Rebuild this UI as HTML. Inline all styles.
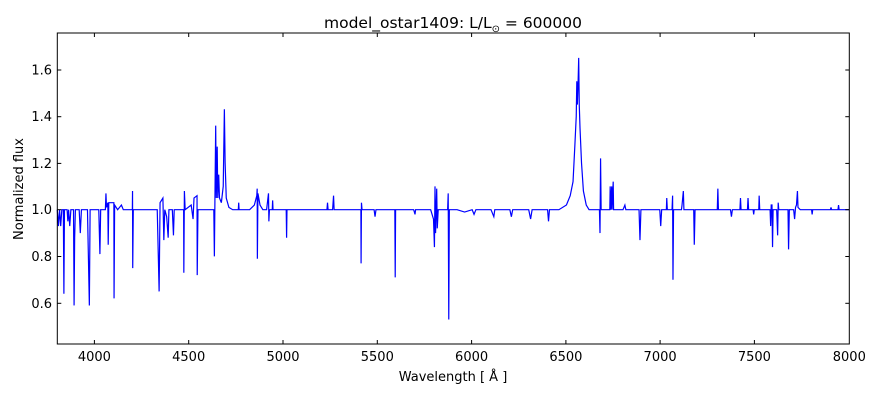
<!DOCTYPE html>
<html><head><meta charset="utf-8"><style>
body{margin:0;background:#fff;}
svg{display:block;font-family:"DejaVu Sans","Liberation Sans",sans-serif;}
</style></head><body>
<svg width="880" height="400" viewBox="0 0 880 400">
<rect width="880" height="400" fill="#fff"/>
<text x="453" y="28" font-size="15.5" text-anchor="middle">model_ostar1409: L/L<tspan font-size="10" dy="4">⊙</tspan><tspan dy="-4"> = 600000</tspan></text>
<g transform="translate(-659.27,443.2) scale(0.18857,-233.5)">
<path fill="none" stroke="#0000ff" stroke-width="1.2" vector-effect="non-scaling-stroke" stroke-linejoin="miter" d="
M3800 1 L3806 0.93 L3812 1 L3818 0.93 L3824 1 L3832 1 L3835 0.64 L3838 1 L3852 1 L3856 0.95 L3860 1 L3866 0.93 L3872 1 L3886 1 L3889 0.59 L3892 0.88 L3896 1 L3916 1 L3922 0.9 L3928 1 L3960 1 L3970 0.59 L3974 1 L4020 1 L4026 0.81 L4030 1 L4055 1 L4058 1.07 L4061 1.01 L4068 1.03 L4070 0.85 L4073 1.03 L4100 1.03 L4101 0.62 L4104 1.02 L4120 1.0 L4140 1.02 L4150 1 L4198 1 L4199 1.08 L4200 0.75 L4203 1 L4330 1 L4340 0.65 L4345 1.03 L4360 1.05 L4365 0.87 L4370 1 L4380 0.97 L4388 0.88 L4392 1 L4410 1 L4416 0.89 L4420 1 L4470 1 L4471 0.73 L4474 1.08 L4478 1 L4510 1.02 L4520 0.96 L4525 1.05 L4541 1.06 L4542 0.72 L4546 1 L4600 1 L4630 1 L4633 0.8 L4636 1.05 L4640 1.36 L4643 1.05 L4648 1.27 L4651 1.05 L4656 1.15 L4660 1.05 L4670 1.03 L4680 1.1 L4686 1.43 L4690 1.2 L4696 1.05 L4710 1.01 L4730 1 L4760 1 L4762 1.03 L4764 1 L4820 1 L4845 1.02 L4858 1.06 L4860 1.09 L4861 0.79 L4864 1.07 L4875 1.02 L4890 1 L4910 1 L4920 1.07 L4922 0.95 L4925 1 L4940 1 L4942 1.04 L4944 1 L5014 1 L5016 0.88 L5018 1 L5200 1 L5230 1 L5233 1.03 L5236 1 L5260 1 L5265 1.06 L5268 1 L5410 1 L5411 0.77 L5413 1.03 L5416 1 L5480 1 L5485 0.97 L5490 1 L5590 1 L5592 0.71 L5594 1 L5690 1 L5697 0.98 L5700 1 L5780 1 L5795 0.96 L5800 0.84 L5803 1.1 L5806 0.9 L5812 1.09 L5815 0.92 L5820 1 L5870 1 L5873 1.07 L5876 0.53 L5879 1 L5920 1 L5960 0.99 L6000 1 L6010 0.98 L6020 1 L6100 1 L6115 0.97 L6120 1 L6200 1 L6208 0.97 L6215 1 L6300 1 L6310 0.96 L6318 1 L6400 1 L6405 0.95 L6410 1 L6460 1 L6500 1.02 L6520 1.06 L6535 1.12 L6545 1.28 L6552 1.4 L6555 1.55 L6558 1.45 L6562 1.55 L6565 1.65 L6568 1.45 L6572 1.35 L6580 1.2 L6590 1.08 L6605 1.02 L6620 1 L6675 1 L6678 0.9 L6681 1.22 L6684 1 L6730 1 L6732 1.1 L6735 1 L6740 1.1 L6742 1 L6748 1.12 L6750 1 L6800 1 L6810 1.02 L6815 1 L6885 1 L6890 0.87 L6895 1 L6995 1 L7000 0.93 L7005 1 L7030 1 L7032 1.05 L7035 1 L7060 1 L7063 1.06 L7065 0.7 L7068 1 L7110 1 L7113 1.02 L7120 1.08 L7123 1 L7175 1 L7178 0.85 L7182 1 L7300 1 L7303 1.09 L7306 1 L7370 1 L7375 0.97 L7380 1 L7420 1 L7423 1.05 L7426 1 L7460 1 L7463 1.05 L7466 1 L7490 1 L7493 0.98 L7496 1 L7520 1 L7522 1.06 L7525 1 L7580 1 L7583 0.93 L7586 1.02 L7590 1.02 L7593 0.84 L7596 1 L7615 1 L7620 0.89 L7623 1.03 L7626 1 L7675 1 L7678 0.83 L7682 1 L7705 1 L7710 0.96 L7715 1.01 L7720 1.02 L7725 1.08 L7728 1.01 L7740 1 L7800 1 L7803 0.98 L7806 1 L7900 1 L7903 1.01 L7906 1 L7940 1 L7943 1.02 L7946 1 L8000 1"/>
</g>
<rect x="57.3" y="33" width="792" height="311" fill="none" stroke="#000" stroke-width="1"/>
<g stroke="#000" stroke-width="1">
<line x1="94.4" y1="344" x2="94.4" y2="340"/><line x1="94.4" y1="33" x2="94.4" y2="37"/>
<line x1="188.7" y1="344" x2="188.7" y2="340"/><line x1="188.7" y1="33" x2="188.7" y2="37"/>
<line x1="283" y1="344" x2="283" y2="340"/><line x1="283" y1="33" x2="283" y2="37"/>
<line x1="377.3" y1="344" x2="377.3" y2="340"/><line x1="377.3" y1="33" x2="377.3" y2="37"/>
<line x1="471.6" y1="344" x2="471.6" y2="340"/><line x1="471.6" y1="33" x2="471.6" y2="37"/>
<line x1="565.9" y1="344" x2="565.9" y2="340"/><line x1="565.9" y1="33" x2="565.9" y2="37"/>
<line x1="660.1" y1="344" x2="660.1" y2="340"/><line x1="660.1" y1="33" x2="660.1" y2="37"/>
<line x1="754.4" y1="344" x2="754.4" y2="340"/><line x1="754.4" y1="33" x2="754.4" y2="37"/>
<line x1="57.3" y1="70" x2="61.3" y2="70"/><line x1="849.3" y1="70" x2="845.3" y2="70"/>
<line x1="57.3" y1="116.7" x2="61.3" y2="116.7"/><line x1="849.3" y1="116.7" x2="845.3" y2="116.7"/>
<line x1="57.3" y1="163.4" x2="61.3" y2="163.4"/><line x1="849.3" y1="163.4" x2="845.3" y2="163.4"/>
<line x1="57.3" y1="209.7" x2="61.3" y2="209.7"/><line x1="849.3" y1="209.7" x2="845.3" y2="209.7"/>
<line x1="57.3" y1="256.5" x2="61.3" y2="256.5"/><line x1="849.3" y1="256.5" x2="845.3" y2="256.5"/>
<line x1="57.3" y1="303.3" x2="61.3" y2="303.3"/><line x1="849.3" y1="303.3" x2="845.3" y2="303.3"/>
</g>
<g font-size="13" text-anchor="middle">
<text x="94.4" y="361">4000</text><text x="188.7" y="361">4500</text><text x="283" y="361">5000</text>
<text x="377.3" y="361">5500</text><text x="471.6" y="361">6000</text><text x="565.9" y="361">6500</text>
<text x="660.1" y="361">7000</text><text x="754.4" y="361">7500</text><text x="849.3" y="361">8000</text>
</g>
<g font-size="13" text-anchor="end">
<text x="52" y="74.5">1.6</text><text x="52" y="121.2">1.4</text><text x="52" y="167.9">1.2</text>
<text x="52" y="214.2">1.0</text><text x="52" y="261">0.8</text><text x="52" y="307.8">0.6</text>
</g>
<text x="453" y="381" font-size="13" text-anchor="middle">Wavelength [ Å ]</text>
<text transform="translate(23,189) rotate(-90)" font-size="13" text-anchor="middle">Normalized flux</text>
</svg>
</body></html>
